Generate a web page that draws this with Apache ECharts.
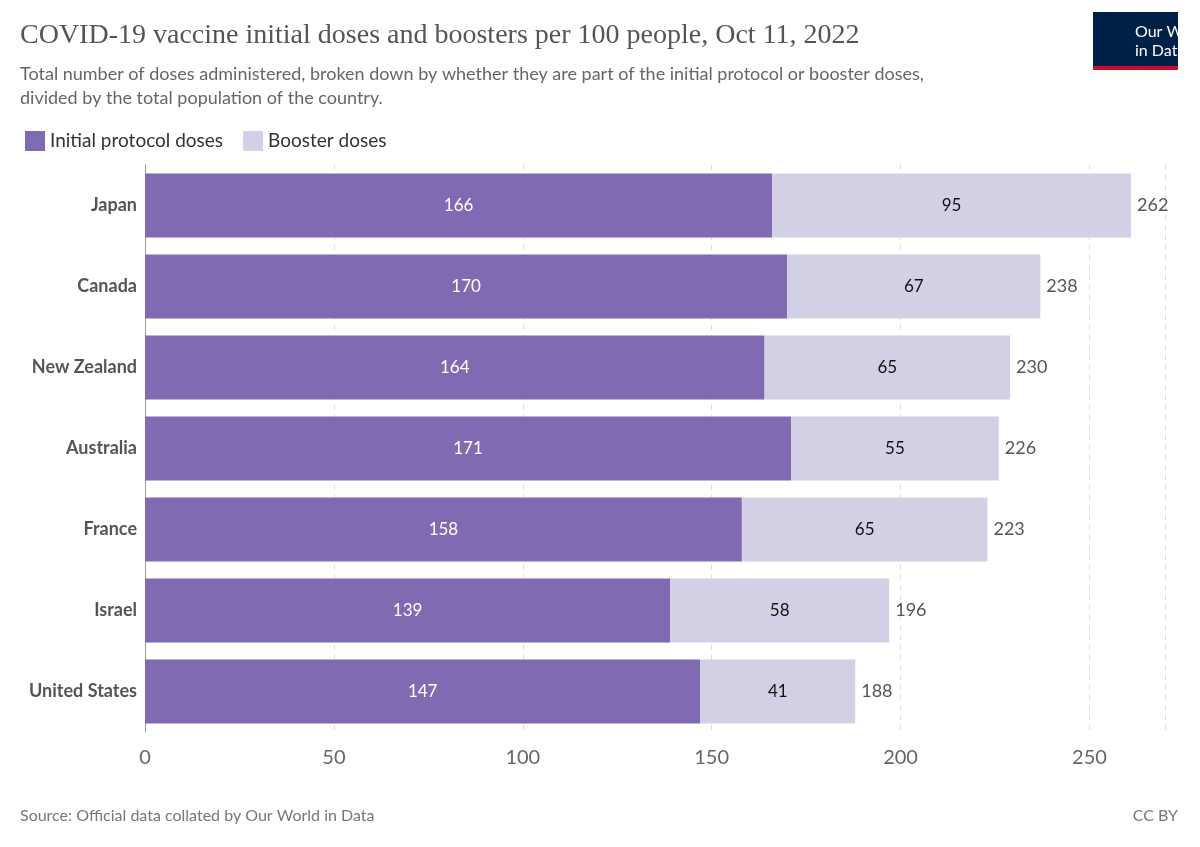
<!DOCTYPE html>
<html>
<head>
<meta charset="utf-8">
<script src="https://cdn.jsdelivr.net/npm/echarts@6/dist/echarts.min.js"></script>
<style>html,body{margin:0;padding:0;background:#fff}#chart{width:1200px;height:847px}</style>
</head>
<body>
<div id="chart"></div>
<script>
var countries = ['Japan', 'Canada', 'New Zealand', 'Australia', 'France', 'Israel', 'United States'];
var initialDoses = [166, 170, 164, 171, 158, 139, 147];
var boosterDoses = [95, 67, 65, 55, 65, 58, 41];
var totalDoses = [262, 238, 230, 226, 223, 196, 188];

var chart = echarts.init(document.getElementById('chart'));
var font = 'Lato, "Liberation Sans", sans-serif';

chart.setOption({
    animation: false,
    textStyle: {fontFamily: font},
    grid: {left: 145, top: 165, height: 567, right: 35},
    graphic: [
        {type: 'text', left: 20, top: 22, style: {text: 'COVID-19 vaccine initial doses and boosters per 100 people, Oct 11, 2022', font: '28px "Liberation Serif", "DejaVu Serif", serif', fill: '#555'}},
        {type: 'text', left: 20, top: 62, style: {text: 'Total number of doses administered, broken down by whether they are part of the initial protocol or booster doses,\ndivided by the total population of the country.', font: '18px ' + font, fill: '#666', lineHeight: 24}},
        {type: 'rect', left: 1093, top: 12, shape: {width: 85, height: 58}, style: {fill: '#002147'}},
        {type: 'rect', left: 1093, top: 66, shape: {width: 85, height: 4}, style: {fill: '#c8102e'}},
        {type: 'text', left: 1135, top: 22, style: {text: 'Our World\nin Data', font: '16px ' + font, fill: '#fff', align: 'center', lineHeight: 19}},
        {type: 'text', left: 20, top: 808, style: {text: 'Source: Official data collated by Our World in Data', font: '16px ' + font, fill: '#777'}},
        {type: 'text', right: 22, top: 808, style: {text: 'CC BY', font: '16px ' + font, fill: '#777'}}
    ],
    legend: {
        left: 20, top: 126, itemWidth: 20, itemHeight: 20, itemGap: 20,
        icon: 'rect',
        textStyle: {fontSize: 19, color: '#333'},
        data: ['Initial protocol doses', 'Booster doses']
    },
    xAxis: {
        type: 'value', min: 0, max: 270, interval: 50,
        axisLine: {show: false}, axisTick: {show: false},
        axisLabel: {fontSize: 20, color: '#666', margin: 16, showMaxLabel: false},
        splitLine: {lineStyle: {type: [5, 5], color: '#ddd'}}
    },
    yAxis: {
        type: 'category', data: countries, inverse: true,
        axisLine: {lineStyle: {color: '#999'}}, axisTick: {show: false},
        axisLabel: {fontSize: 18, fontWeight: 'bold', color: '#555', margin: 8}
    },
    series: [
        {
            name: 'Initial protocol doses', type: 'bar', stack: 'd', barWidth: 64,
            itemStyle: {color: '#806bb2'}, data: initialDoses,
            label: {show: true, position: 'inside', color: '#fff', fontSize: 17}
        },
        {
            name: 'Booster doses', type: 'bar', stack: 'd', barWidth: 64,
            itemStyle: {color: '#d3d0e6'}, data: boosterDoses,
            label: {show: true, position: 'inside', color: '#111', fontSize: 17}
        },
        {
            name: 'total', type: 'bar', stack: 'd', barWidth: 64,
            data: totalDoses.map(function () { return 0; }),
            itemStyle: {color: 'transparent'},
            label: {
                show: true, position: 'right', color: '#555', fontSize: 18, distance: 6,
                formatter: function (p) { return totalDoses[p.dataIndex]; }
            }
        }
    ]
});
</script>
</body>
</html>
